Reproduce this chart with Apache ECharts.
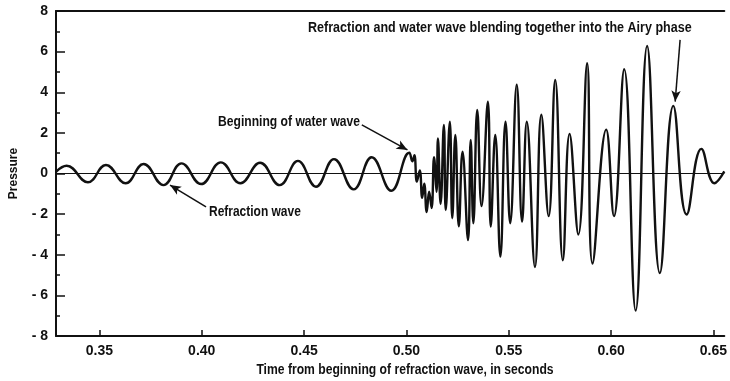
<!DOCTYPE html>
<html>
<head>
<meta charset="utf-8">
<script src="https://cdn.jsdelivr.net/npm/echarts@6/dist/echarts.min.js"></script>
<style>
  html, body { margin: 0; padding: 0; background: #fff; }
  #chart { width: 730px; height: 381px; }
</style>
</head>
<body>
<div id="chart"></div>
<script>
// peaks and troughs (time in seconds, pressure)
const timeS = [
  0.3289, 0.3340, 0.3444, 0.3532, 0.3628, 0.3716, 0.3813, 0.3901, 0.3997, 0.4093,
  0.4189, 0.4285, 0.4381, 0.4470, 0.4558, 0.4646, 0.4742, 0.4830, 0.4926, 0.5014,
  0.5029, 0.5039, 0.5051, 0.5065, 0.5077, 0.5087, 0.5099, 0.5111, 0.5123, 0.5135,
  0.5147, 0.5154, 0.5167, 0.5183, 0.5192, 0.5212, 0.5224, 0.5239, 0.5256, 0.5274,
  0.5301, 0.5314, 0.5327, 0.5346, 0.5367, 0.5398, 0.5412, 0.5434, 0.5459, 0.5484,
  0.5507, 0.5539, 0.5565, 0.5588, 0.5628, 0.5659, 0.5695, 0.5727, 0.5764, 0.5797,
  0.5840, 0.5883, 0.5909, 0.5976, 0.6014, 0.6064, 0.6120, 0.6176, 0.6238, 0.6304,
  0.6369, 0.6441, 0.6505, 0.6553
];
const pressure = [
  0.09, 0.38, -0.43, 0.42, -0.48, 0.47, -0.57, 0.50, -0.52, 0.55,
  -0.48, 0.53, -0.57, 0.62, -0.65, 0.71, -0.78, 0.80, -0.85, 1.02,
  0.60, 0.90, -0.40, 0.15, -1.20, -0.50, -1.90, -0.90, -1.70, 0.80,
  -0.90, 1.73, -1.50, 2.39, -1.80, 2.55, -2.20, 1.90, -2.60, 1.07,
  -3.28, 1.65, -2.45, 3.13, -1.60, 3.54, -2.61, 1.90, -4.09, 2.55,
  -2.45, 4.37, -2.37, 2.55, -4.60, 2.89, -2.10, 4.60, -4.27, 1.95,
  -3.00, 5.43, -4.43, 2.16, -2.10, 5.13, -6.75, 6.28, -4.90, 3.33,
  -2.02, 1.21, -0.48, 0.10
];
const xTicks = [0.35, 0.40, 0.45, 0.50, 0.55, 0.60, 0.65];
const xMin = 0.3288, xMax = 0.6553;

const trace = timeS.map((t, i) => [t, pressure[i]]);

const font = '"Liberation Sans", Arial, sans-serif';

// arrows: [from, to] in data units
const arrows = [
  [[0.6337, 6.58], [0.6313, 3.54]],
  [[0.4782, 2.39], [0.5005, 1.16]],
  [[0.4021, -1.64], [0.3845, -0.57]]
];

// condensed-looking bold label
function note(text, x, y, align, sx) {
  return {
    type: 'text', x: x, y: y, scaleX: sx,
    style: { text: text, fill: '#111', font: 'bold 14px ' + font,
      textAlign: align, textVerticalAlign: 'middle' }
  };
}

const chart = echarts.init(document.getElementById('chart'), null, { renderer: 'canvas' });
chart.setOption({
  animation: false,
  backgroundColor: '#fff',
  grid: { left: 51, right: 0, top: 11, bottom: 45 },
  xAxis: [{
    type: 'value', min: xMin, max: xMax,
    axisLine: { show: true, onZero: false, lineStyle: { color: '#111', width: 2 } },
    axisTick: { inside: true, length: 6, customValues: xTicks, lineStyle: { color: '#111', width: 1.5 } },
    axisLabel: {
      customValues: xTicks, margin: 8, color: '#111',
      fontFamily: font, fontWeight: 'bold', fontSize: 14,
      formatter: v => v.toFixed(2)
    },
    splitLine: { show: false }
  }, {
    type: 'value', position: 'top', min: xMin, max: xMax,
    axisLine: { show: true, onZero: false, lineStyle: { color: '#111', width: 2 } },
    axisTick: { show: false }, axisLabel: { show: false }, splitLine: { show: false }
  }],
  yAxis: {
    type: 'value', min: -8, max: 8, interval: 2,
    name: 'Pressure', nameLocation: 'middle', nameGap: 36,
    nameTextStyle: { color: '#111', fontFamily: font, fontWeight: 'bold', fontSize: 12 },
    axisLine: { show: true, onZero: false, lineStyle: { color: '#111', width: 2 } },
    axisTick: { inside: true, length: 9, lineStyle: { color: '#111', width: 1.5 } },
    minorTick: { show: true, splitNumber: 2, length: 4, lineStyle: { color: '#111', width: 1.5 } },
    axisLabel: {
      margin: 8, color: '#111', fontFamily: font, fontWeight: 'bold', fontSize: 14,
      formatter: v => v < 0 ? '- ' + Math.abs(v) : String(v)
    },
    splitLine: { show: false }
  },
  series: [{
    name: 'zero',
    type: 'line', data: [], silent: true,
    markLine: {
      silent: true, symbol: 'none', animation: false,
      label: { show: false },
      lineStyle: { color: '#111', width: 1.2, type: 'solid' },
      data: [{ yAxis: 0 }]
    }
  }, {
    name: 'Pressure',
    type: 'line',
    data: trace,
    smooth: 0.45,
    showSymbol: false,
    lineStyle: { color: '#111', width: 2.4 },
    markLine: {
      silent: true, animation: false,
      symbol: ['none', 'arrow'], symbolSize: [7, 11],
      label: { show: false },
      lineStyle: { color: '#111', width: 1.5, type: 'solid' },
      data: arrows.map(a => [{ coord: a[0] }, { coord: a[1] }])
    }
  }],
  graphic: [
    note('Refraction and water wave blending together into the Airy phase', 308, 28, 'left', 0.895),
    note('Beginning of water wave', 360, 122, 'right', 0.865),
    note('Refraction wave', 209, 212, 'left', 0.855),
    note('Time from beginning of refraction wave, in seconds', 405, 370, 'center', 0.867)
  ]
});
</script>
</body>
</html>
